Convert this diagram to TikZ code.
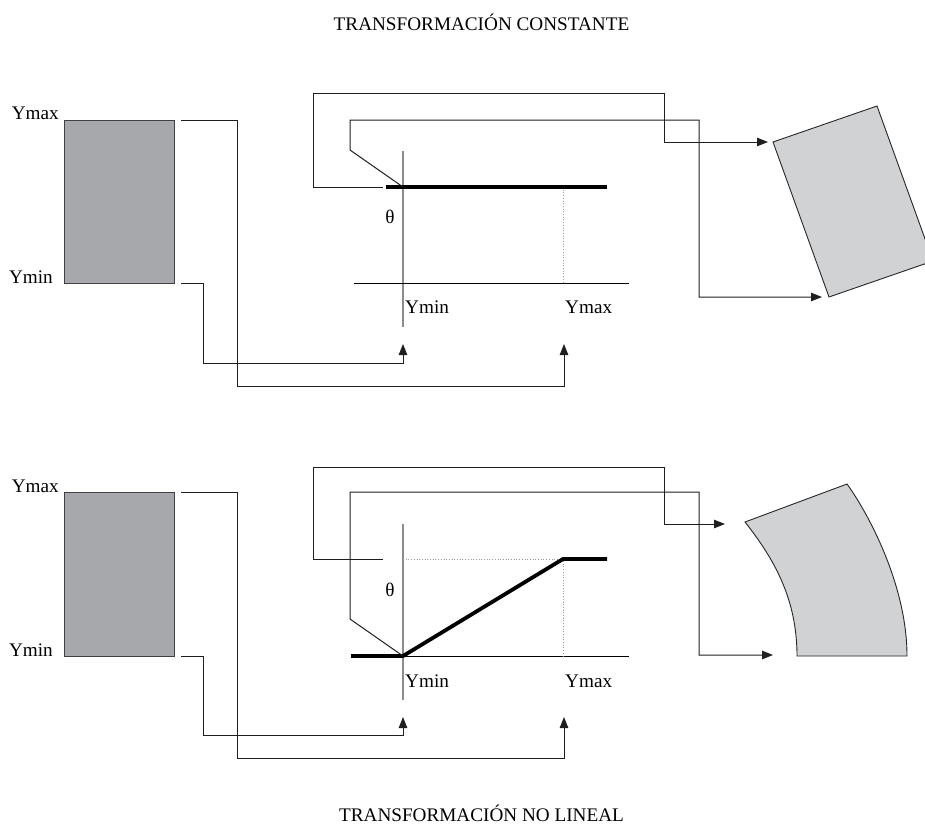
\documentclass[tikz,border=0pt]{standalone}
\usepackage{fontspec}
\setmainfont{Liberation Serif}
\usetikzlibrary{arrows.meta}
\definecolor{darkfill}{HTML}{A7A8AB}
\definecolor{lightfill}{HTML}{D1D2D4}
\begin{document}
\begin{tikzpicture}[x=1pt,y=-1pt,
  conn/.style={draw=black!88, line width=1pt},
  arr/.style={conn, -{Triangle[length=11pt,width=8.5pt]}},
  lbl/.style={font=\fontsize{19.2}{21}\selectfont, inner sep=0pt},
  srcbox/.style={draw=black!75, line width=1pt, fill=darkfill, minimum width=110pt, minimum height=163pt, inner sep=0pt},
  shapeline/.style={draw=black!85, line width=0.9pt, fill=lightfill},
  thickcurve/.style={line width=3.8pt, black},
  yaxis/.style={draw=black!45, line width=1.6pt},
  xaxis/.style={draw=black, line width=1pt},
  guide/.style={draw=black!40, line width=0.7pt, dotted}]
\useasboundingbox (0,0) rectangle (925,824);

% ---------- titles ----------
\node[lbl] (t1) at (481.5,22) {TRANSFORMACIÓN CONSTANTE};
\node[lbl] (t2) at (481.5,813) {TRANSFORMACIÓN NO LINEAL};

% ================= TOP DIAGRAM =================
\node[srcbox] (r1) at (119,201.5) {};
\node[lbl, anchor=base east] (r1max) at (59,120) {Ymax};
\node[lbl, anchor=base east] (r1min) at (53,283) {Ymin};

% axes
\coordinate (v1t) at (403,151); \coordinate (v1b) at (403,327);
\coordinate (h1l) at (354,283); \coordinate (h1r) at (629,283);
\draw[yaxis] (v1t) -- (v1b);
\draw[xaxis] (h1l) -- (h1r);
\coordinate (g1t) at (563,187); \coordinate (g1b) at (563,283);
\draw[guide] (g1t) -- (g1b);
\coordinate (c1a) at (386,187); \coordinate (c1o) at (403,187); \coordinate (c1b) at (607,187);
\draw[thickcurve] (c1a) -- (c1b);
\node[lbl] (th1) at (390,216.5) {θ};
\node[lbl, anchor=base west] (x1min) at (405,313) {Ymin};
\node[lbl, anchor=base west] (x1max) at (565,313) {Ymax};

% connectors from source
\coordinate (s1max) at (181,120); \coordinate (s1min) at (181,283);
\coordinate (p1max) at (564,344); \coordinate (p1min) at (403,344);
\draw[arr] (s1max) -| (237,386) -| (p1max);
\draw[arr] (s1min) -| (203,363) -| (p1min);

% output shape
\coordinate (q1a) at (773,142); \coordinate (q1b) at (877,106);
\coordinate (q1c) at (933,261); \coordinate (q1d) at (829,297);
\begin{scope}
\clip (0,0) rectangle (925,824);
\draw[shapeline] (q1a) -- (q1b) -- (q1c) -- (q1d) -- cycle;
\end{scope}

% loops to output
\coordinate (o1s) at (383,187);
\draw[arr] (o1s) -| (313,94) -| (664,142) -- ([xshift=-5pt]q1a);
\draw[arr] (c1o) -- (350,150) -- (350,120) -| (699,297) -- ([xshift=-7pt]q1d);

% ================= BOTTOM DIAGRAM =================
\node[srcbox, minimum height=164pt] (r2) at (119,574) {};
\node[lbl, anchor=base east] (r2max) at (59,492) {Ymax};
\node[lbl, anchor=base east] (r2min) at (53,656) {Ymin};

\coordinate (v2t) at (403,524); \coordinate (v2b) at (403,700);
\coordinate (h2l) at (354,656); \coordinate (h2r) at (629,656);
\draw[yaxis] (v2t) -- (v2b);
\draw[xaxis] (h2l) -- (h2r);
\coordinate (g2a) at (403,559); \coordinate (g2k) at (563,559); \coordinate (g2b) at (563,656);
\draw[guide] (g2a) -- (g2k) -- (g2b);
\coordinate (c2a) at (351,656); \coordinate (c2o) at (403,656); \coordinate (c2b) at (607,559);
\draw[thickcurve, line join=miter] (c2a) -- (c2o) -- (g2k) -- (c2b);
\node[lbl] (th2) at (390,590) {θ};
\node[lbl, anchor=base west] (x2min) at (405,687) {Ymin};
\node[lbl, anchor=base west] (x2max) at (565,687) {Ymax};

\coordinate (s2max) at (181,492); \coordinate (s2min) at (181,656);
\coordinate (p2max) at (564,717); \coordinate (p2min) at (403,717);
\draw[arr] (s2max) -| (237,758) -| (p2max);
\draw[arr] (s2min) -| (203,735) -| (p2min);

\coordinate (q2a) at (745,522); \coordinate (q2b) at (847,484);
\coordinate (q2c) at (907,656); \coordinate (q2d) at (797,656);
\draw[shapeline] (q2a) -- (q2b) .. controls (868,513) and (907,585) .. (q2c)
  -- (q2d) .. controls (797,600) and (775,560) .. (q2a) -- cycle;

\coordinate (o2s) at (383,559);
\draw[arr] (o2s) -| (313,467) -| (664,524) -- (725,524);
\draw[arr] (c2o) -- (350,619) -- (350,492) -| (699,655) -- (773,655);
\end{tikzpicture}
\end{document}
